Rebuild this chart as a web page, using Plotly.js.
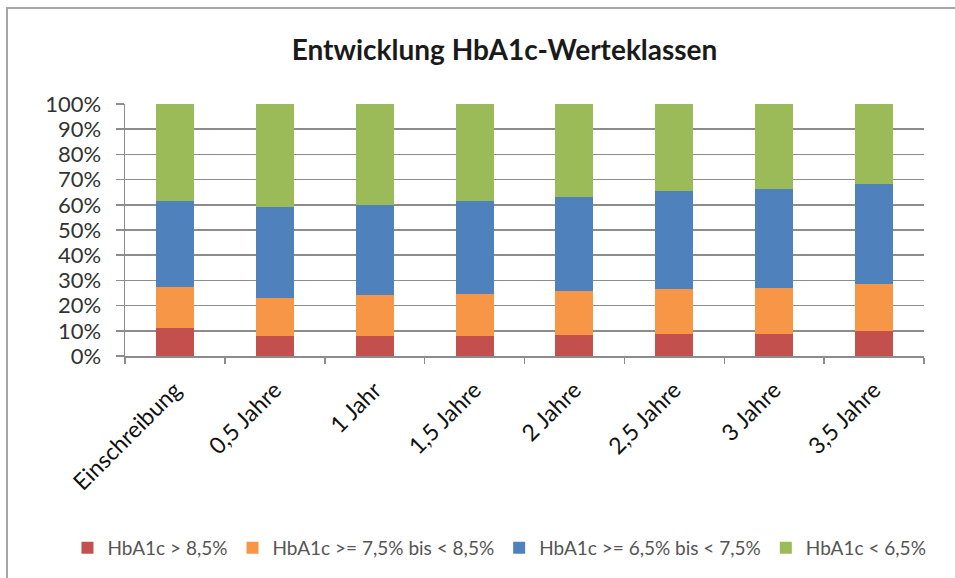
<!DOCTYPE html>
<html>
<head>
<meta charset="utf-8">
<script src="https://cdn.plot.ly/plotly-3.0.1.min.js"></script>
<style>
  html, body { margin: 0; padding: 0; background: #fff; }
  #wrap { position: relative; width: 955px; height: 578px; overflow: hidden; }
  #chart { position: absolute; left: 0; top: 0; width: 955px; height: 578px; }
  #frame { position: absolute; left: 6px; top: 7px; width: 960px; height: 600px;
           border-left: 2px solid #a6a6a6; border-top: 2px solid #a6a6a6; pointer-events: none; }
</style>
</head>
<body>
<div id="wrap">
  <div id="chart"></div>
  <div id="frame"></div>
</div>
<script>
const categories = ["Einschreibung", "0,5 Jahre", "1 Jahr", "1,5 Jahre", "2 Jahre", "2,5 Jahre", "3 Jahre", "3,5 Jahre"];
const seriesNames = ["HbA1c > 8,5%", "HbA1c >= 7,5% bis < 8,5%", "HbA1c >= 6,5% bis < 7,5%", "HbA1c < 6,5%"];
const above85   = [11.3, 8.1, 8.1, 8.1, 8.4, 8.9, 8.9, 10.0];
const from75    = [16.1, 15.0, 16.1, 16.4, 17.4, 17.7, 18.2, 18.4];
const from65    = [34.2, 36.1, 35.8, 37.1, 37.4, 38.7, 39.2, 39.8];
const below65   = [38.4, 40.8, 40.0, 38.4, 36.8, 34.7, 33.7, 31.8];
const yTickVals = [0, 10, 20, 30, 40, 50, 60, 70, 80, 90, 100];
const yTickText = ["0%", "10%", "20%", "30%", "40%", "50%", "60%", "70%", "80%", "90%", "100%"];

const colors = ["#C4504D", "#F79646", "#4F81BD", "#9BBB59"];
const seriesValues = [above85, from75, from65, below65];

const traces = seriesValues.map((vals, i) => ({
  type: "bar",
  name: seriesNames[i],
  x: categories,
  y: vals,
  marker: { color: colors[i], line: { width: 0 } },
  hoverinfo: "skip"
}));

const layout = {
  width: 955,
  height: 578,
  margin: { l: 125, r: 31, t: 104, b: 221, pad: 0 },
  paper_bgcolor: "#ffffff",
  plot_bgcolor: "#ffffff",
  barmode: "stack",
  barnorm: "percent",
  bargap: 0.62,
  font: { family: "Lato, 'Open Sans', sans-serif", color: "#000" },
  title: {
    text: "<b>Entwicklung HbA1c-Werteklassen</b>",
    font: { family: "Lato, sans-serif", size: 28, color: "#1a1a1a" },
    x: 0.475, xanchor: "center", xref: "paper",
    y: 0.913, yanchor: "middle", yref: "container"
  },
  xaxis: {
    type: "category",
    automargin: false,
    tickangle: -45,
    tickfont: { size: 23, color: "#111" },
    ticklabelstandoff: 10,
    showline: true, linecolor: "#8c8c8c", linewidth: 1.5,
    ticks: "outside", tickson: "boundaries", ticklen: 6, tickcolor: "#8c8c8c", tickwidth: 1.5,
    showgrid: false,
    zeroline: false,
    fixedrange: true
  },
  yaxis: {
    automargin: false,
    range: [0, 100],
    tickvals: yTickVals,
    ticktext: yTickText,
    tickfont: { size: 22, color: "#333" },
    ticklabelstandoff: 10,
    showline: true, linecolor: "#8c8c8c", linewidth: 1.5,
    ticks: "outside", ticklen: 8, tickcolor: "#8c8c8c", tickwidth: 1.5,
    showgrid: true, gridcolor: "#8c8c8c", gridwidth: 1.5,
    zeroline: false,
    fixedrange: true
  },
  showlegend: true,
  legend: {
    orientation: "h",
    x: -0.072, xanchor: "left", xref: "paper",
    y: -0.755, yanchor: "middle", yref: "paper",
    font: { size: 19, color: "#555" },
    traceorder: "normal",
    itemclick: false, itemdoubleclick: false
  }
};

Plotly.newPlot("chart", traces, layout, { displayModeBar: false, staticPlot: true });
</script>
</body>
</html>
